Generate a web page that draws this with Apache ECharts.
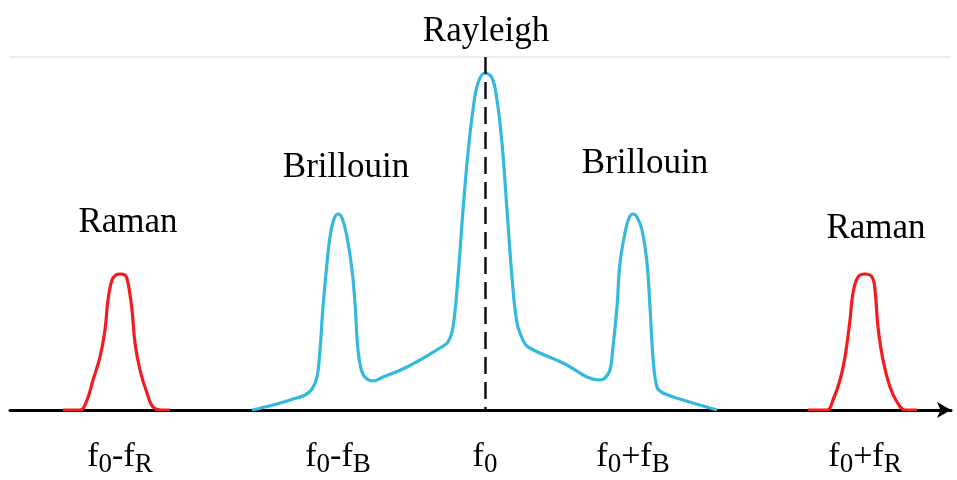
<!DOCTYPE html>
<html>
<head>
<meta charset="utf-8">
<script src="https://cdn.jsdelivr.net/npm/echarts@6/dist/echarts.min.js"></script>
<style>html,body{margin:0;padding:0;background:#fff}#c{width:957px;height:480px}</style>
</head>
<body>
<div id="c"></div>
<script>
// Frequency position (x) vs intensity (arbitrary units)
var ramanLeft = [[63,0],[80,0],[87,10],[93,30],[100,53],[105,80],[108,110],[112,130],[116,135],[120,136],[125,135],[128,127],[132,100],[135,67],[140,40],[147,17],[153,3],[162,0],[170,0]];
var ramanRight = [[808,0],[827,0],[833,10],[840,30],[845,53],[850,90],[853,117],[858,133],[865,136],[872,133],[875,120],[878,83],[883,50],[890,23],[897,8],[905,0],[917,0]];
var rayleighBrillouin = [[252,0],[273,5],[290,10],[305,15],[312,21],[317,33],[320,60],[323,103],[327,147],[330,173],[334,191],[338,196],[342,192],[347,173],[352,140],[355,107],[358,60],[362,38],[367,31],[373,29],[383,33],[407,43],[440,62],[448,68],[453,83],[458,133],[463,200],[468,257],[473,300],[478,327],[485,337],[492,332],[497,310],[502,267],[507,200],[512,133],[517,87],[523,70],[528,63],[563,47],[600,30],[605,32],[610,40],[613,63],[617,103],[620,147],[625,177],[629,192],[633,196],[637,193],[642,180],[647,147],[650,103],[653,53],[657,23],[663,17],[683,10],[717,0]];

var peakPositions = [120, 338, 485, 633, 865];
var peakNames = ['Raman', 'Brillouin', 'Rayleigh', 'Brillouin', 'Raman'];
var tickPositions = [120, 338, 485, 633, 865];
var tickLabels = ['{m|f}{s|0}{m|-f}{s|R}', '{m|f}{s|0}{m|-f}{s|B}', '{m|f}{s|0}', '{m|f}{s|0}{m|+f}{s|B}', '{m|f}{s|0}{m|+f}{s|R}'];
var centerLine = 485;

var allCurves = [ramanLeft, rayleighBrillouin, ramanRight];
function heightAt(x) {
  var best = 0;
  allCurves.forEach(function (c) {
    c.forEach(function (p) { if (Math.abs(p[0] - x) <= 6 && p[1] > best) best = p[1]; });
  });
  return best;
}
// label placement styles (not data)
var labelStyles = [
  {distance: 34, offset: [8, 0]},
  {distance: 29, offset: [8, 0]},
  {distance: 24, offset: [1, 0]},
  {distance: 33, offset: [12, 0]},
  {distance: 28, offset: [11, 0]}
];
var annotations = peakPositions.map(function (x, i) {
  return {
    value: [x, heightAt(x)],
    name: peakNames[i],
    label: {show: true, position: 'top', distance: labelStyles[i].distance, offset: labelStyles[i].offset}
  };
});

var FONT = '"Liberation Serif", "Times New Roman", serif';
var chart = echarts.init(document.getElementById('c'), null, {renderer: 'canvas'});
chart.setOption({
  animation: false,
  backgroundColor: '#ffffff',
  grid: {left: 10, right: 6, top: 57, bottom: 70, containLabel: false, outerBoundsMode: 'none'},
  xAxis: {
    type: 'value', min: 10, max: 951,
    axisLine: {show: true, symbol: ['none', 'arrow'], symbolSize: [12, 14], lineStyle: {color: '#000', width: 3}},
    axisTick: {show: false},
    splitLine: {show: false},
    axisLabel: {
      show: true,
      customValues: tickPositions,
      margin: 26,
      formatter: function (v) { var i = tickPositions.indexOf(v); return i >= 0 ? tickLabels[i] : ''; },
      rich: {
        m: {fontFamily: FONT, fontSize: 34, color: '#000', lineHeight: 38, verticalAlign: 'bottom'},
        s: {fontFamily: FONT, fontSize: 27, color: '#000', lineHeight: 38, verticalAlign: 'bottom', padding: [0, 0, -4, 0]}
      }
    }
  },
  yAxis: {
    type: 'value', min: 0, max: 353, interval: 353,
    axisLine: {show: false}, axisTick: {show: false}, axisLabel: {show: false},
    splitLine: {show: true, lineStyle: {color: '#ececec', width: 2}}
  },
  series: [
    {type: 'line', data: ramanLeft, smooth: 0.4, symbol: 'none', lineStyle: {color: '#f41a1e', width: 3.2}, z: 3},
    {type: 'line', data: ramanRight, smooth: 0.4, symbol: 'none', lineStyle: {color: '#f41a1e', width: 3.2}, z: 3},
    {type: 'line', data: rayleighBrillouin, smooth: 0.4, symbol: 'none', lineStyle: {color: '#34b8dc', width: 3.2}, z: 3,
      markLine: {
        silent: true, symbol: ['none', 'none'], label: {show: false},
        lineStyle: {color: '#111', width: 2.5, type: [17, 8]},
        data: [[{coord: [centerLine, 353]}, {coord: [centerLine, 0]}]]
      }
    },
    {type: 'scatter', data: annotations, symbolSize: 0, z: 5, itemStyle: {opacity: 1},
      label: {show: true, formatter: function (p) { return p.name; }, fontFamily: FONT, fontSize: 35, color: '#000', opacity: 1}}
  ]
});
</script>
</body>
</html>
